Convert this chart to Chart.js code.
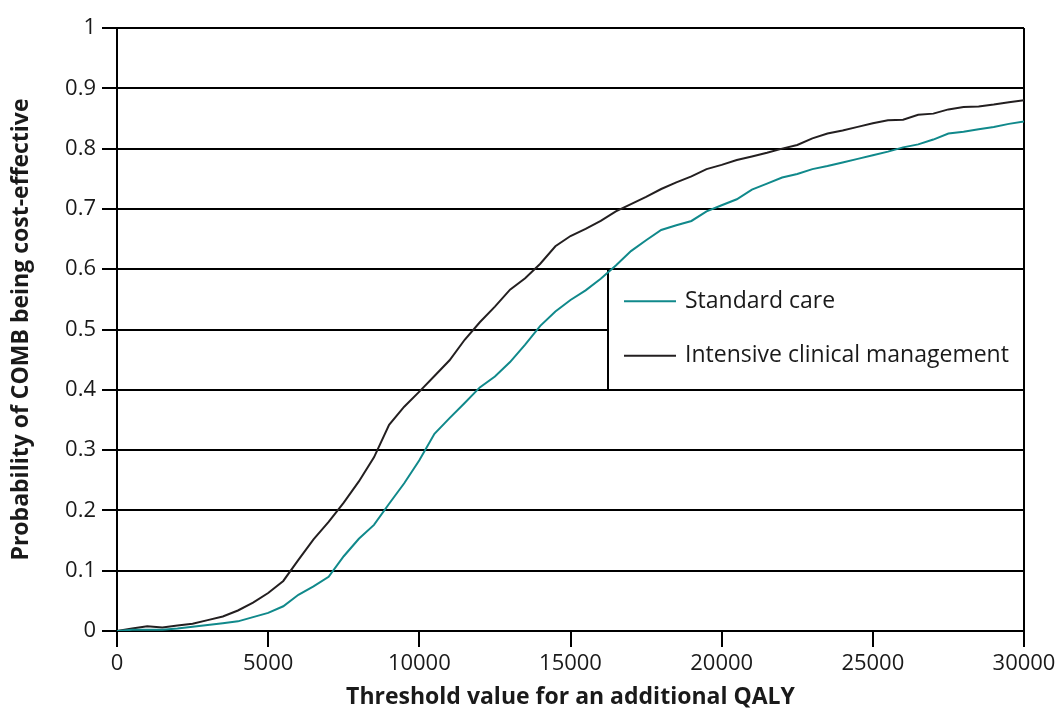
<!DOCTYPE html>
<html>
<head>
<meta charset="utf-8">
<script src="https://cdn.jsdelivr.net/npm/chart.js@4/dist/chart.umd.min.js"></script>
<style>
  html, body { margin: 0; padding: 0; background: #fff; }
  #wrap { width: 1060px; height: 711px; position: relative; }
</style>
</head>
<body>
<div id="wrap"><canvas id="c" width="1060" height="711"></canvas></div>
<script>
// Threshold values (x axis)
const thresholds = [0,500,1000,1500,2000,2500,3000,3500,4000,4500,5000,5500,6000,6500,7000,7500,8000,8500,9000,9500,10000,10500,11000,11500,12000,12500,13000,13500,14000,14500,15000,15500,16000,16500,17000,17500,18000,18500,19000,19500,20000,20500,21000,21500,22000,22500,23000,23500,24000,24500,25000,25500,26000,26500,27000,27500,28000,28500,29000,29500,30000];

// Probability COMB cost-effective vs standard care
const standardCare = [0,0.002,0.002,0.002,0.004,0.007,0.010,0.013,0.016,0.023,0.030,0.041,0.060,0.074,0.090,0.124,0.153,0.176,0.211,0.245,0.283,0.327,0.353,0.378,0.404,0.422,0.446,0.475,0.506,0.530,0.549,0.565,0.584,0.606,0.630,0.648,0.665,0.673,0.680,0.696,0.706,0.716,0.732,0.742,0.752,0.758,0.766,0.771,0.777,0.783,0.789,0.795,0.802,0.807,0.815,0.825,0.828,0.832,0.836,0.841,0.845];

// Probability COMB cost-effective vs intensive clinical management
const intensiveClinical = [0,0.004,0.008,0.006,0.009,0.012,0.018,0.024,0.034,0.047,0.063,0.083,0.118,0.152,0.181,0.213,0.248,0.288,0.342,0.372,0.397,0.423,0.449,0.483,0.512,0.538,0.566,0.585,0.609,0.638,0.655,0.667,0.680,0.696,0.708,0.720,0.733,0.744,0.754,0.766,0.773,0.781,0.787,0.793,0.800,0.806,0.817,0.825,0.830,0.836,0.842,0.847,0.848,0.856,0.858,0.865,0.869,0.870,0.873,0.877,0.880];

const seriesNames = ['Standard care', 'Intensive clinical management'];
const yTickLabels = ['0','0.1','0.2','0.3','0.4','0.5','0.6','0.7','0.8','0.9','1'];
const xTickLabels = ['0','5000','10000','15000','20000','25000','30000'];

const FONT = "'Open Sans', 'Noto Sans', 'DejaVu Sans', sans-serif";
const TEAL = '#10898b';
const DARK = '#231f20';

const toPts = arr => arr.map((v, i) => ({ x: thresholds[i], y: v }));

const legendBoxPlugin = {
  id: 'legendBox',
  beforeDatasetsDraw(chart) {
    const { ctx, chartArea, scales } = chart;
    const xs = scales.x, ys = scales.y;
    const left = Math.round(xs.getPixelForValue(16250));
    const top = ys.getPixelForValue(0.6);
    const bottom = ys.getPixelForValue(0.4);
    ctx.save();
    ctx.fillStyle = '#fff';
    ctx.fillRect(left, top + 1, chartArea.right - left - 1, bottom - top - 2);
    ctx.strokeStyle = '#000';
    ctx.lineWidth = 2;
    ctx.beginPath();
    ctx.moveTo(left, top);
    ctx.lineTo(left, bottom);
    ctx.stroke();
    const items = [
      { label: seriesNames[0], color: TEAL, y: top + 32 },
      { label: seriesNames[1], color: DARK, y: bottom - 34 }
    ];
    ctx.font = "23px " + FONT;
    ctx.textBaseline = 'middle';
    ctx.textAlign = 'left';
    items.forEach(it => {
      ctx.strokeStyle = it.color;
      ctx.lineWidth = 2;
      ctx.beginPath();
      ctx.moveTo(left + 16, it.y);
      ctx.lineTo(left + 68, it.y);
      ctx.stroke();
      ctx.fillStyle = '#1a1a1a';
      ctx.fillText(it.label, left + 77, it.y);
    });
    ctx.restore();
  }
};

new Chart(document.getElementById('c'), {
  type: 'line',
  data: {
    datasets: [
      { label: seriesNames[0], data: toPts(standardCare), borderColor: TEAL, borderWidth: 2, pointRadius: 0, tension: 0, fill: false },
      { label: seriesNames[1], data: toPts(intensiveClinical), borderColor: DARK, borderWidth: 2, pointRadius: 0, tension: 0, fill: false }
    ]
  },
  options: {
    responsive: false,
    animation: false,
    events: [],
    layout: { padding: { top: 28, right: 36, left: 0, bottom: 0 } },
    plugins: { legend: { display: false }, tooltip: { enabled: false } },
    scales: {
      x: {
        type: 'linear',
        min: 0, max: 30000,
        afterFit: s => { s.height = 80; },
        ticks: {
          stepSize: 5000,
          color: '#1a1a1a',
          font: { family: FONT, size: 22 },
          padding: 4,
          maxRotation: 0,
          callback: (v) => { const i = xTickLabels.indexOf(String(v)); return i >= 0 ? xTickLabels[i] : ''; }
        },
        grid: {
          color: ctx => (ctx.tick && ctx.tick.value === 30000) ? '#000' : 'rgba(0,0,0,0)',
          tickColor: '#000',
          lineWidth: 2,
          tickLength: 16
        },
        border: { display: true, color: '#000', width: 2 },
        title: {
          display: true,
          text: 'Threshold value for an additional QALY',
          color: '#1a1a1a',
          font: { family: FONT, size: 23, weight: 'bold' },
          padding: { top: 0, bottom: 0 }
        }
      },
      y: {
        min: 0, max: 1,
        afterFit: s => { s.width = 117; },
        ticks: {
          stepSize: 0.1,
          color: '#1a1a1a',
          font: { family: FONT, size: 22 },
          padding: 6,
          callback: (v, i) => yTickLabels[i]
        },
        grid: {
          color: '#000',
          lineWidth: 2,
          tickLength: 15
        },
        border: { display: true, color: '#000', width: 2 },
        title: {
          display: true,
          text: 'Probability of COMB being cost-effective',
          color: '#1a1a1a',
          font: { family: FONT, size: 23, weight: 'bold' },
          padding: { top: 8, bottom: 0 }
        }
      }
    }
  },
  plugins: [legendBoxPlugin]
});
</script>
</body>
</html>
